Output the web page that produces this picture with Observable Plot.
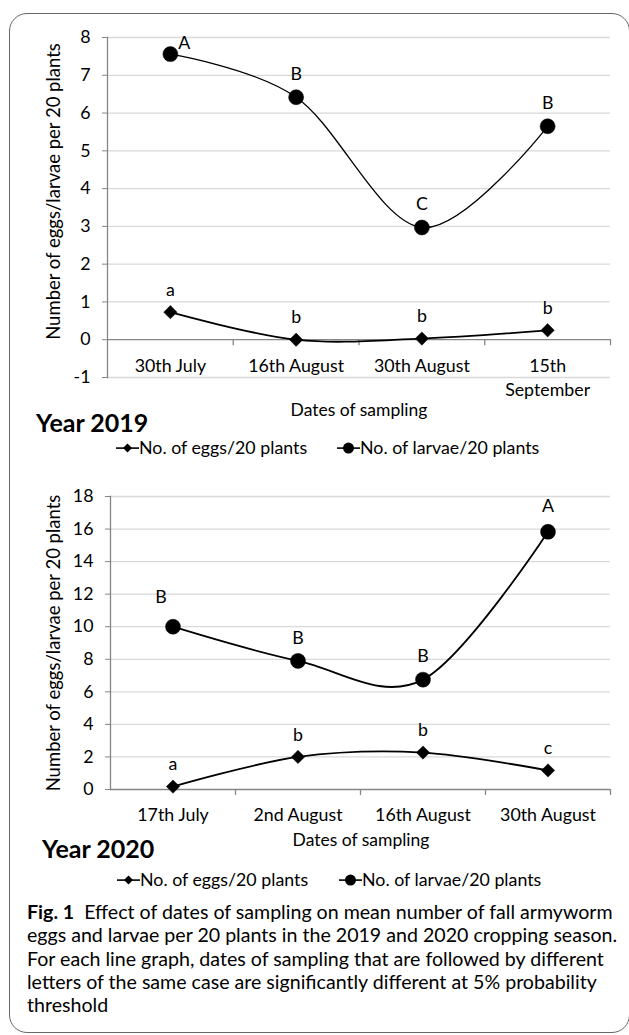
<!DOCTYPE html>
<html><head><meta charset="utf-8">
<script src="https://cdn.jsdelivr.net/npm/d3@7"></script>
<script src="https://cdn.jsdelivr.net/npm/@observablehq/plot@0.6"></script>
<style>
body{margin:0;background:#fff;font-family:Lato,"Open Sans",sans-serif;color:#000;}
#page{position:relative;width:629px;height:1035px;overflow:hidden;background:#fff;}
#frame{position:absolute;left:9px;top:13px;width:621px;height:1020px;border:1.5px solid #666;border-radius:18px;box-sizing:border-box;}
.abs{position:absolute;white-space:nowrap;transform:translateY(-50%);line-height:1;}
.year{font-weight:bold;font-size:25px;}
.axt{font-size:17.5px;transform:translate(-50%,-50%);}
.leg{font-size:17.8px;display:flex;align-items:center;}
.leg svg{display:block;margin-right:0px;}
#caption{position:absolute;left:27px;top:900px;font-size:19.6px;line-height:23.3px;white-space:nowrap;}
.chart{position:absolute;left:0;}
</style>
</head><body>
<div id="page">
  <div id="frame"></div>
</div>
<script>
// ---- data ----
const dates2019 = ["30th July", "16th August", "30th August", "15th\nSeptember"];
const eggs2019 = [0.73, 0.0, 0.03, 0.25];
const larvae2019 = [7.56, 6.42, 2.97, 5.65];
const eggLetters2019 = ["a", "b", "b", "b"];
const larvaeLetters2019 = ["A", "B", "C", "B"];
const yTicks2019 = [-1, 0, 1, 2, 3, 4, 5, 6, 7, 8];

const dates2020 = ["17th July", "2nd August", "16th August", "30th August"];
const eggs2020 = [0.18, 2.0, 2.27, 1.17];
const larvae2020 = [10.0, 7.9, 6.75, 15.83];
const eggLetters2020 = ["a", "b", "b", "c"];
const larvaeLetters2020 = ["B", "B", "B", "A"];
const yTicks2020 = [0, 2, 4, 6, 8, 10, 12, 14, 16, 18];

const yTitle = "Number of eggs/larvae per 20 plants";
const xTitle = "Dates of sampling";
const legendEggs = "No. of eggs/20 plants";
const legendLarvae = "No. of larvae/20 plants";
const captionLines = [
  "<b>Fig. 1</b>&nbsp; Effect of dates of sampling on mean number of fall armyworm",
  "eggs and larvae per 20 plants in the 2019 and 2020 cropping season.",
  "For each line graph, dates of sampling that are followed by different",
  "letters of the same case are significantly different at 5% probability",
  "threshold"
];

const AX = "#868686";
const FS = 17.8;

function chart(o) {
  const rows = o.dates.map((d, i) => ({i, date: d, eggs: o.eggs[i], larvae: o.larvae[i], el: o.eggLetters[i], ll: o.larvaeLetters[i]}));
  const bounds = d3.range(o.dates.length + 1).map(k => k - 0.5);
  const special = o.special || [];
  const specialIdx = special.map(s => s.index);
  const marks = [
    Plot.gridY(o.yTicks.filter(t => t !== 0), {stroke: "#d9d9d9", strokeOpacity: 1, strokeWidth: 1.3}),
    Plot.axisY(o.yTicks, {tickSize: 5, tickPadding: 12, stroke: AX, label: null, fontSize: FS, tickFormat: d => String(d)}),
    Plot.frame({anchor: "left", stroke: AX, strokeWidth: 1.3}),
    Plot.ruleY([0], {stroke: AX, strokeWidth: 1.3}),
    Plot.ruleX(bounds.slice(1), {x: d => d, y1: 0, y2: 0, insetBottom: -6, stroke: AX, strokeWidth: 1.3}),
    Plot.text(rows, {x: "i", y: 0, text: "date", dy: o.xLabelDy, lineAnchor: "top", lineHeight: 1.35, fontSize: FS}),
    Plot.text([yTitle], {frameAnchor: "left", textAnchor: "middle", rotate: -90, dx: o.titleDx, dy: o.titleDy, fontSize: 18.5}),
    Plot.line(rows, {x: "i", y: "larvae", curve: "cardinal", stroke: "#000", strokeWidth: o.larvaeWidth}),
    Plot.line(rows, {x: "i", y: "eggs", curve: "cardinal", stroke: "#000", strokeWidth: 1.8}),
    Plot.dot(rows, {x: "i", y: "larvae", r: 7.5, fill: "#000", stroke: "#000", strokeWidth: 0.5}),
    Plot.dot(rows, {x: "i", y: "eggs", symbol: "diamond2", r: 6, fill: "#000", stroke: "#000", strokeWidth: 0.5}),
    Plot.text(rows, {x: "i", y: "eggs", text: "el", dy: -22, fontSize: FS}),
    Plot.text(rows.filter(r => !specialIdx.includes(r.i)), {x: "i", y: "larvae", text: "ll", dy: -23, fontSize: FS})
  ];
  for (const s of special) {
    marks.push(Plot.text(rows.filter(r => r.i === s.index), {x: "i", y: "larvae", text: "ll", dx: s.dx, dy: s.dy, fontSize: FS}));
  }
  return Plot.plot({
    width: 629, height: o.height,
    marginTop: o.marginTop, marginBottom: o.marginBottom, marginLeft: o.marginLeft, marginRight: o.marginRight,
    style: {fontFamily: "Lato, sans-serif", fontSize: FS + "px", color: "#000", background: "transparent", overflow: "visible"},
    x: {domain: [bounds[0], bounds[bounds.length - 1]], axis: null},
    y: {domain: [o.yTicks[0], o.yTicks[o.yTicks.length - 1]], axis: null},
    marks
  });
}

const page = document.getElementById("page");

function place(node, top) {
  node.classList.add("chart");
  node.style.top = top + "px";
  page.appendChild(node);
}

place(chart({
  dates: dates2019, eggs: eggs2019, larvae: larvae2019, eggLetters: eggLetters2019, larvaeLetters: larvaeLetters2019,
  yTicks: yTicks2019, height: 400, marginTop: 37, marginBottom: 23, marginLeft: 107, marginRight: 19,
  xLabelDy: 15, titleDx: -53, titleDy: -16, larvaeWidth: 1.3,
  special: [{index: 0, dx: 14, dy: -11}]
}), 0);

place(chart({
  dates: dates2020, eggs: eggs2020, larvae: larvae2020, eggLetters: eggLetters2020, larvaeLetters: larvaeLetters2020,
  yTicks: yTicks2020, height: 360, marginTop: 36, marginBottom: 31, marginLeft: 110, marginRight: 19,
  xLabelDy: 14, titleDx: -56, titleDy: 0, larvaeWidth: 1.8,
  special: [{index: 0, dx: -12, dy: -29}, {index: 3, dx: 0, dy: -26}]
}), 460);

function div(cls, html, left, top) {
  const d = document.createElement("div");
  d.className = "abs " + cls;
  d.innerHTML = html;
  d.style.left = left + "px";
  d.style.top = top + "px";
  page.appendChild(d);
  return d;
}

div("axt", xTitle, 359, 410);
div("axt", xTitle, 361, 840);
div("year", "Year 2019", 36, 422);
div("year", "Year 2020", 42, 848);

const eggIcon = `<svg width="23" height="14"><line x1="0" y1="7" x2="23" y2="7" stroke="#000" stroke-width="1.6"/><path d="M11.5 2.5 L16 7 L11.5 11.5 L7 7 Z" fill="#000"/></svg>`;
const larvaIcon = `<svg width="23" height="14"><line x1="0" y1="7" x2="23" y2="7" stroke="#000" stroke-width="1.6"/><circle cx="11.5" cy="7" r="5.5" fill="#000"/></svg>`;

div("leg", eggIcon + legendEggs, 116, 448);
div("leg", larvaIcon + legendLarvae, 337, 448);
div("leg", eggIcon + legendEggs, 117, 880);
div("leg", larvaIcon + legendLarvae, 339, 880);

const cap = document.createElement("div");
cap.id = "caption";
cap.innerHTML = captionLines.join("<br>");
page.appendChild(cap);
</script>
</body></html>
